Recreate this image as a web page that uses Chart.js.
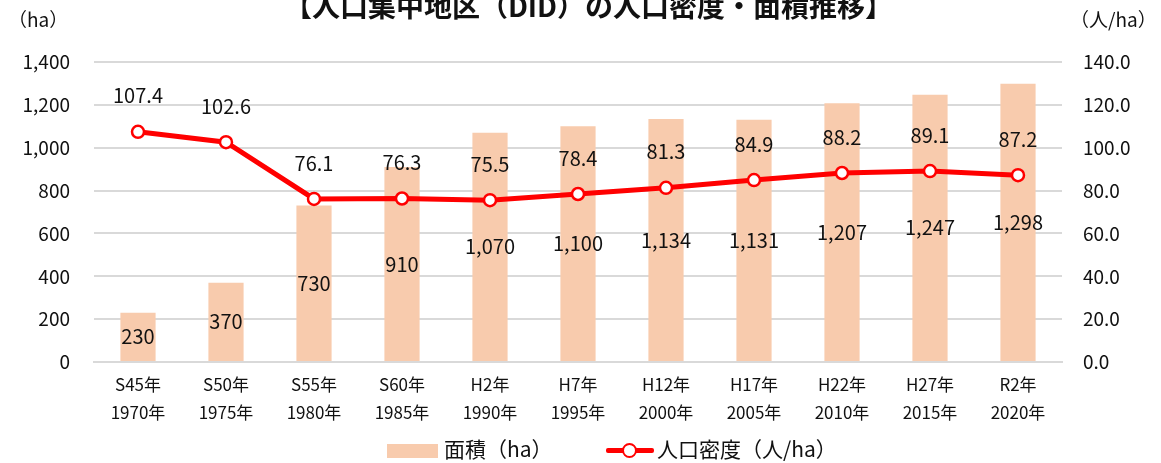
<!DOCTYPE html>
<html lang="ja">
<head>
<meta charset="utf-8">
<script src="https://cdn.jsdelivr.net/npm/chart.js@4/dist/chart.umd.min.js"></script>
<style>
  body { margin: 0; background: #fff; font-family: "Noto Sans CJK JP", sans-serif; color: #111; }
  #wrap { position: relative; width: 1161px; height: 463px; overflow: hidden; }
  #chart { position: absolute; left: 0; top: 0; }
  .abs { position: absolute; white-space: nowrap; line-height: 1; }
  #title { left: 8px; width: 1161px; text-align: center; top: -9px; font-size: 28px; font-weight: bold; }
  #unit-l { left: 8px; top: 9px; font-size: 19px; }
  #unit-r { left: 1070px; top: 9px; font-size: 19px; }
  .leg-box { position: absolute; left: 387px; top: 444px; width: 51px; height: 14px; background: #F8CBAD; }
  .leg-line { position: absolute; left: 606px; top: 448px; width: 48px; height: 5px; background: #FF0000; border-radius: 2px; }
  .leg-dot { position: absolute; left: 622px; top: 443px; width: 11px; height: 11px; border: 2.5px solid #FF0000; border-radius: 50%; background: #fff; }
  #leg-t1 { left: 444px; top: 438px; font-size: 21px; }
  #leg-t2 { left: 657px; top: 438px; font-size: 21px; }
</style>
</head>
<body>
<div id="wrap">
  <canvas id="chart" width="1161" height="463"></canvas>
  <div id="title" class="abs">【人口集中地区（DID）の人口密度・面積推移】</div>
  <div id="unit-l" class="abs">（ha）</div>
  <div id="unit-r" class="abs">（人/ha）</div>
  <div class="leg-box"></div>
  <div id="leg-t1" class="abs">面積（ha）</div>
  <div class="leg-line"></div>
  <div class="leg-dot"></div>
  <div id="leg-t2" class="abs">人口密度（人/ha）</div>
</div>
<script>
// 和暦 / 西暦 の2段ラベル
const eraLabels = ["S45年", "S50年", "S55年", "S60年", "H2年", "H7年", "H12年", "H17年", "H22年", "H27年", "R2年"];
const yearLabels = ["1970年", "1975年", "1980年", "1985年", "1990年", "1995年", "2000年", "2005年", "2010年", "2015年", "2020年"];

// 面積 (ha)
const areaHa = [230, 370, 730, 910, 1070, 1100, 1134, 1131, 1207, 1247, 1298];
// 人口密度 (人/ha)
const density = [107.4, 102.6, 76.1, 76.3, 75.5, 78.4, 81.3, 84.9, 88.2, 89.1, 87.2];

const FONT = "'Noto Sans CJK JP', sans-serif";
const GRID = "#d9d9d9";

// no datalabels plugin offline — draw the value labels by hand
const valueLabels = {
  id: "valueLabels",
  afterDatasetsDraw(chart) {
    const ctx = chart.ctx;
    ctx.save();
    ctx.font = `20px ${FONT}`;
    ctx.fillStyle = "#111";
    ctx.textAlign = "center";
    ctx.textBaseline = "middle";
    chart.getDatasetMeta(0).data.forEach((bar, i) => {
      const y = (bar.y + bar.base) / 2;
      ctx.fillText(areaHa[i].toLocaleString("en-US"), bar.x, y);
    });
    chart.getDatasetMeta(1).data.forEach((pt, i) => {
      ctx.fillText(density[i].toFixed(1), pt.x, pt.y - 36);
    });
    ctx.restore();
  },
};

new Chart(document.getElementById("chart"), {
  data: {
    labels: eraLabels.map((e, i) => [e, yearLabels[i]]),
    datasets: [
      {
        type: "bar",
        label: "面積（ha）",
        data: areaHa,
        yAxisID: "y",
        backgroundColor: "#F8CBAD",
        barPercentage: 0.4,
        categoryPercentage: 1,
        order: 1,
      },
      {
        type: "line",
        label: "人口密度（人/ha）",
        data: density,
        yAxisID: "y2",
        borderColor: "#FF0000",
        borderWidth: 5,
        pointRadius: 6,
        pointBorderWidth: 2.5,
        pointBackgroundColor: "#fff",
        pointBorderColor: "#FF0000",
        tension: 0,
        order: 0,
      },
    ],
  },
  options: {
    responsive: false,
    animation: false,
    layout: { padding: { top: 62, bottom: 21, left: 0, right: 0 } },
    plugins: { legend: { display: false }, tooltip: { enabled: false } },
    scales: {
      x: {
        grid: { display: false },
        border: { color: GRID, width: 2 },
        ticks: { color: "#111", font: { family: FONT, size: 17, lineHeight: "28px" }, padding: 1, maxRotation: 0, autoSkip: false },
        afterFit: (s) => { s.height = 80; },
      },
      y: {
        position: "left",
        min: 0, max: 1400,
        ticks: { stepSize: 200, color: "#111", font: { family: FONT, size: 19 }, padding: 24,
          callback: (v) => v.toLocaleString("en-US") },
        grid: { color: GRID, lineWidth: 2, drawTicks: false },
        border: { display: false },
        afterFit: (s) => { s.width = 94; },
      },
      y2: {
        position: "right",
        min: 0, max: 140,
        ticks: { stepSize: 20, color: "#111", font: { family: FONT, size: 19 }, padding: 21,
          callback: (v) => v.toFixed(1) },
        grid: { display: false, drawTicks: false },
        border: { display: false },
        afterFit: (s) => { s.width = 99; },
      },
    },
  },
  plugins: [valueLabels],
});
</script>
</body>
</html>
